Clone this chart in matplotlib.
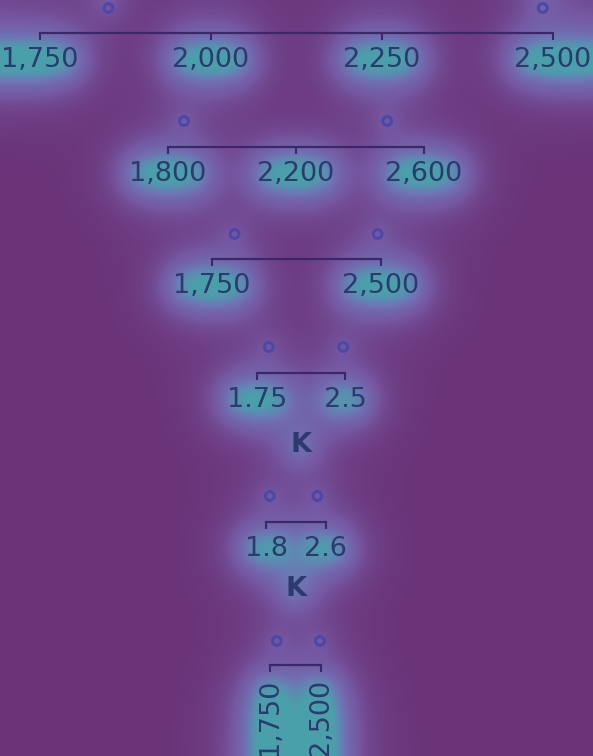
import numpy as np
import matplotlib
matplotlib.use('Agg')
import matplotlib.pyplot as plt
from matplotlib.ticker import FuncFormatter
from matplotlib.colors import LinearSegmentedColormap

# data: same two points on each axis
values = [1850, 2485]

ticks_1 = [1750, 2000, 2250, 2500]
ticks_2 = [1800, 2200, 2600]
ticks_3 = [1750, 2500]
ticks_4 = [1750, 2500]
ticks_5 = [1800, 2600]
ticks_6 = [1750, 2500]

W, H = 593, 756
BG = '#6b3479'
TEXT = '#2c3a6e'
LINE = '#3a2868'
MARK = '#4b49a8'

comma_fmt = FuncFormatter(lambda v, p: '{:,.0f}'.format(v))
k2_fmt = FuncFormatter(lambda v, p: '{:g}'.format(round(v / 1000, 2)))
k1_fmt = FuncFormatter(lambda v, p: '{:g}'.format(round(v / 1000, 1)))

#----------------------------------------------------------
# (ticks, formatter, x0, x1, spine y, marker y, rotation, xlabel, labelpad)
layout = [
    (ticks_1, comma_fmt, 40, 553, 33, 8, 0, None, 0),
    (ticks_2, comma_fmt, 168, 424, 147, 121, 0, None, 0),
    (ticks_3, comma_fmt, 212, 381, 259, 234, 0, None, 0),
    (ticks_4, k2_fmt, 257, 345, 373, 347, 0, 'K', 14),
    (ticks_5, k1_fmt, 266, 326, 522, 496, 0, 'K', 10),
    (ticks_6, comma_fmt, 270, 321, 665, 641, 90, None, 0),
]

fig = plt.figure(figsize=(W / 100, H / 100), dpi=100, facecolor=BG)

axes = []
for ticks, fmt, x0, x1, sy, my, rot, lab, lpad in layout:
    h = 2 * (sy - my)
    ax = fig.add_axes([x0 / W, (H - sy) / H, (x1 - x0) / W, h / H])
    ax.set_facecolor('none')
    ax.scatter(values, [0.5] * len(values), s=40, facecolors='none',
               edgecolors=MARK, linewidths=2.2, zorder=3, clip_on=False)
    ax.set_xlim(ticks[0], ticks[-1])
    ax.set_ylim(0, 1)
    ax.set_xticks(ticks)
    ax.xaxis.set_major_formatter(fmt)
    ax.set_yticks([])
    for s in ['top', 'left', 'right']:
        ax.spines[s].set_visible(False)
    ax.spines['bottom'].set_color(LINE)
    ax.spines['bottom'].set_linewidth(1.6)
    ax.tick_params(axis='x', length=5, width=1.5, color=LINE, pad=5,
                   labelsize=19.5, labelcolor=TEXT, labelrotation=rot)
    if lab:
        ax.set_xlabel(lab, fontsize=19.5, fontweight='bold', color=TEXT, labelpad=lpad)
    axes.append(ax)

#----------------------------------------------------------
# glow map around the texts and marks
fig.canvas.draw()
r = fig.canvas.get_renderer()
mask = np.zeros((H, W))

def add_box(bb, weight, grow=0):
    xa, xb = int(max(bb.x0 - grow, 0)), int(min(bb.x1 + grow, W))
    ya, yb = int(max(bb.y0 - grow, 0)), int(min(bb.y1 + grow, H))
    if xb > xa and yb > ya:
        mask[ya:yb, xa:xb] = np.maximum(mask[ya:yb, xa:xb], weight)

for ax in axes:
    for t in ax.get_xticklabels():
        add_box(t.get_window_extent(r), 1.0, 0)
    if ax.get_xlabel():
        add_box(ax.xaxis.label.get_window_extent(r), 0.9, 0)
    for v in values:
        px, py = ax.transData.transform((v, 0.5))
        mask[int(py) - 7:int(py) + 7, int(px) - 7:int(px) + 7] = np.maximum(
            mask[int(py) - 7:int(py) + 7, int(px) - 7:int(px) + 7], 0.7)

def kernel_matrix(n, sigma):
    i = np.arange(n)
    k = np.exp(-0.5 * ((i[:, None] - i[None, :]) / sigma) ** 2)
    return k / k.sum(axis=1, keepdims=True)

def blur(m, sigma):
    return kernel_matrix(H, sigma) @ m @ kernel_matrix(W, sigma).T

heat = 0.3 * blur(mask, 9) + 1.45 * blur(mask, 20) + 0.9 * blur(mask, 40)
heat = np.clip(heat, 0, 1)

cmap = LinearSegmentedColormap.from_list(
    'glow', [(0, BG), (0.3, '#7558a2'), (0.6, '#7070b2'),
             (0.8, '#5e8ab2'), (1.0, '#4aa0aa')])
bg = fig.add_axes([0, 0, 1, 1], zorder=-10)
bg.imshow(heat, origin='lower', extent=[0, W, 0, H], cmap=cmap, vmin=0, vmax=1,
          aspect='auto', interpolation='bilinear')
bg.set_xlim(0, W)
bg.set_ylim(0, H)
bg.axis('off')

fig.savefig('out.png', dpi=100, facecolor=BG)
